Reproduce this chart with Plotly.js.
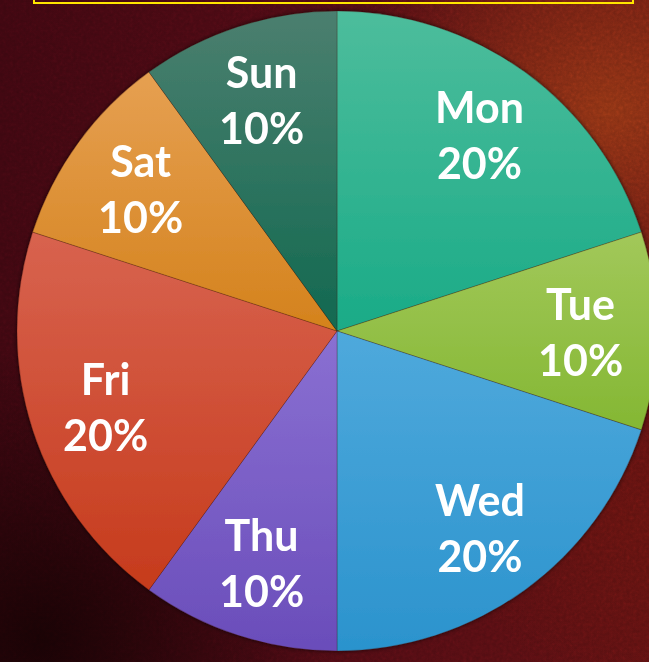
<!DOCTYPE html>
<html>
<head>
<meta charset="utf-8">
<script src="https://cdn.plot.ly/plotly-3.0.1.min.js"></script>
<style>
  html, body { margin:0; padding:0; width:649px; height:662px; overflow:hidden; }
  body {
    position:relative;
    background:
      radial-gradient(ellipse 380px 320px at 610px 110px, rgba(145,55,20,0.85), rgba(145,55,20,0) 70%),
      radial-gradient(ellipse 260px 260px at 640px 520px, rgba(100,20,14,0.6), rgba(100,20,14,0) 70%),
      radial-gradient(ellipse 420px 420px at 40px 640px, rgba(22,2,4,0.95), rgba(22,2,4,0) 70%),
      linear-gradient(90deg, #3c0710 0%, #4a0a13 45%, #5a1011 100%);
  }
  #noise { position:absolute; left:0; top:0; width:649px; height:662px; opacity:0.4; mix-blend-mode:overlay; }
  #titlebox { position:absolute; left:33px; top:-40px; width:597px; height:40px; border:2px solid #ffe600; }
  #chart { position:absolute; left:0; top:0; }
</style>
</head>
<body>
<svg id="noise" xmlns="http://www.w3.org/2000/svg">
  <filter id="n"><feTurbulence type="fractalNoise" baseFrequency="0.3" numOctaves="3" seed="4"/><feColorMatrix type="saturate" values="0"/></filter>
  <rect width="100%" height="100%" filter="url(#n)"/>
</svg>
<div id="titlebox"></div>
<div id="chart"></div>
<script>
const days = ["Mon", "Tue", "Wed", "Thu", "Fri", "Sat", "Sun"];
const shares = [20, 10, 20, 10, 20, 10, 10];
const sliceColors = ["#2ab48f", "#92bf40", "#3a9dd3", "#7255c0", "#cf4829", "#df8f2c", "#236f59"];
const topColors = ["#4dbd9c", "#a2c85a", "#4fa9dc", "#8a70d2", "#d8634f", "#e6a052", "#4b7f6f"];
const bottomColors = ["#1aab87", "#84b733", "#2b93cd", "#6a4dba", "#c63b1c", "#d4821c", "#126950"];

const W = 680, H = 662;
const CX = 337, CY = 331, R = 320, LABEL_R = 0.76;

const trace = {
  type: "pie",
  labels: days,
  values: shares,
  sort: false,
  direction: "clockwise",
  rotation: 0,
  textinfo: "none",
  marker: { colors: sliceColors, line: { color: "rgba(60,20,10,0.45)", width: 0.6 } },
  hoverinfo: "none",
  showlegend: false,
  domain: { x: [(CX - R) / W, (CX + R) / W], y: [(H - CY - R) / H, (H - CY + R) / H] }
};

// label annotations placed on each slice's bisector, computed from the data
const total = shares.reduce((a, b) => a + b, 0);
let cum = 0;
const annotations = days.map((d, i) => {
  const mid = (cum + shares[i] / 2) / total * 2 * Math.PI;
  cum += shares[i];
  const px = CX + R * LABEL_R * Math.sin(mid);
  const py = CY - R * LABEL_R * Math.cos(mid);
  return {
    xref: "paper", yref: "paper",
    x: px / W, y: 1 - py / H,
    xanchor: "center", yanchor: "middle",
    showarrow: false,
    text: d + "<br>" + Math.round(shares[i] / total * 100) + "%",
    font: { family: "Lato, 'Open Sans', sans-serif", size: 43, color: "#ffffff", weight: "bold" }
  };
});

const layout = {
  width: W, height: H,
  margin: { l: 0, r: 0, t: 0, b: 0 },
  paper_bgcolor: "rgba(0,0,0,0)",
  plot_bgcolor: "rgba(0,0,0,0)",
  showlegend: false,
  annotations: annotations
};

Plotly.newPlot("chart", [trace], layout, { displayModeBar: false, staticPlot: true }).then(gd => {
  const svg = gd.querySelector(".main-svg");
  const NS = "http://www.w3.org/2000/svg";
  const defs = document.createElementNS(NS, "defs");
  topColors.forEach((c, i) => {
    const g = document.createElementNS(NS, "linearGradient");
    g.setAttribute("id", "sliceGrad" + i);
    g.setAttribute("x1", "0"); g.setAttribute("y1", "0");
    g.setAttribute("x2", "0"); g.setAttribute("y2", "1");
    [[0, c], [1, bottomColors[i]]].forEach(([o, col]) => {
      const s = document.createElementNS(NS, "stop");
      s.setAttribute("offset", o);
      s.setAttribute("stop-color", col);
      g.appendChild(s);
    });
    defs.appendChild(g);
  });
  const f = document.createElementNS(NS, "filter");
  f.setAttribute("id", "pieShadow");
  f.setAttribute("x", "-10%"); f.setAttribute("y", "-10%");
  f.setAttribute("width", "120%"); f.setAttribute("height", "120%");
  const ds = document.createElementNS(NS, "feDropShadow");
  ds.setAttribute("dx", "0"); ds.setAttribute("dy", "0");
  ds.setAttribute("stdDeviation", "2");
  ds.setAttribute("flood-color", "#000"); ds.setAttribute("flood-opacity", "0.7");
  f.appendChild(ds);
  defs.appendChild(f);
  svg.insertBefore(defs, svg.firstChild);
  gd.querySelectorAll(".pielayer .slice path.surface").forEach((p, i) => {
    p.style.fill = "url(#sliceGrad" + i + ")";
  });
  const tr = gd.querySelector(".pielayer .trace");
  if (tr) tr.setAttribute("filter", "url(#pieShadow)");
});
</script>
</body>
</html>
